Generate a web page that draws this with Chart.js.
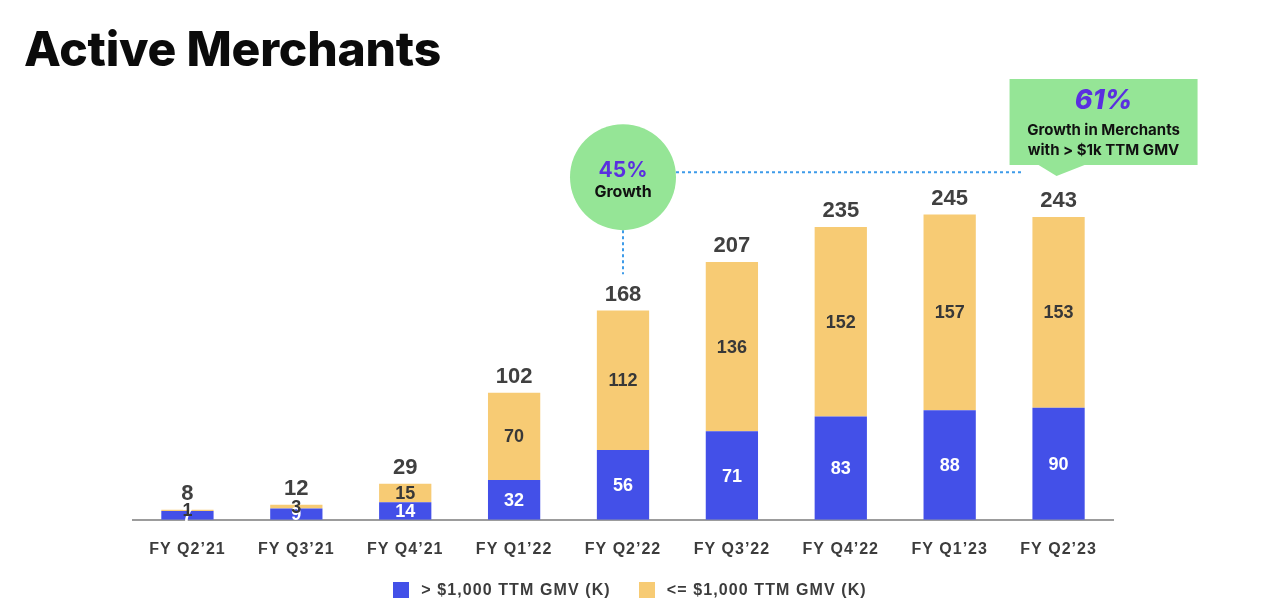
<!DOCTYPE html>
<html>
<head>
<meta charset="utf-8">
<script src="https://cdn.jsdelivr.net/npm/chart.js@4"></script>
<style>
  body { margin: 0; background: #fff; }
  #wrap { position: relative; width: 1280px; height: 614px; }
  #chart { position: absolute; left: 0; top: 0; }
  .title {
    position: absolute; left: 24px; top: 19px;
    font-family: Inter, "Noto Sans", sans-serif; font-weight: 800;
    font-size: 48px; color: #0b0b0b; letter-spacing: -0.2px;
  }
  #legend {
    position: absolute; left: 0; width: 1260px; top: 581px;
    display: flex; justify-content: center; gap: 28px;
    font-family: "Liberation Sans", Arial, sans-serif; font-weight: bold;
    font-size: 16px; color: #3c3c3c; letter-spacing: 1.1px;
  }
  #legend span.item { display: flex; align-items: center; }
  #legend span.box { width: 16px; height: 16px; margin-right: 12px; display: inline-block; }
</style>
</head>
<body>
<div id="wrap">
  <canvas id="chart" width="1280" height="614"></canvas>
  <div class="title">Active Merchants</div>
  <div id="legend"></div>
</div>
<script>
var quarters = ["FY Q2\u201921", "FY Q3\u201921", "FY Q4\u201921", "FY Q1\u201922", "FY Q2\u201922",
  "FY Q3\u201922", "FY Q4\u201922", "FY Q1\u201923", "FY Q2\u201923"];
var above1k = [7, 9, 14, 32, 56, 71, 83, 88, 90];
var below1k = [1, 3, 15, 70, 112, 136, 152, 157, 153];
var seriesNames = ["> $1,000 TTM GMV (K)", "<= $1,000 TTM GMV (K)"];

var BLUE = "#4350e8";
var YELLOW = "#f7cb74";
var GREEN = "#95e596";
var PURPLE = "#5a2fe0";
var DOTS = "#3d9be9";

// labels inside the segments and totals above the stacks
var labelPlugin = {
  id: "barLabels",
  beforeDraw: function (chart) {
    chart.ctx.letterSpacing = "1px";
  },
  afterDatasetsDraw: function (chart) {
    var ctx = chart.ctx;
    ctx.save();
    ctx.letterSpacing = "0px";
    ctx.textAlign = "center";
    ctx.textBaseline = "middle";
    var blueBars = chart.getDatasetMeta(0).data;
    var yellowBars = chart.getDatasetMeta(1).data;

    ctx.font = "bold 18px 'Liberation Sans', Arial, sans-serif";
    blueBars.forEach(function (bar, i) {
      ctx.fillStyle = "#ffffff";
      ctx.fillText(above1k[i], bar.x, (bar.y + bar.base) / 2 + 1);
    });
    yellowBars.forEach(function (bar, i) {
      ctx.fillStyle = "#383838";
      ctx.fillText(below1k[i], bar.x, (bar.y + bar.base) / 2 + 1);
    });

    ctx.font = "bold 22px 'Liberation Sans', Arial, sans-serif";
    ctx.fillStyle = "#404040";
    yellowBars.forEach(function (bar, i) {
      ctx.fillText(above1k[i] + below1k[i], bar.x, bar.y - 16);
    });
    ctx.restore();
  },
};

// growth bubble, dotted connectors and callout box
var calloutPlugin = {
  id: "callouts",
  afterDraw: function (chart) {
    var ctx = chart.ctx;
    var x = chart.scales.x;
    var y = chart.scales.y;
    var cx = x.getPixelForValue(4);
    var cy = y.getPixelForValue(275);
    var r = 53;
    var px = x.getPixelForValue(8);
    var lineY = y.getPixelForValue(279);

    ctx.save();
    ctx.letterSpacing = "0px";

    // dotted lines
    ctx.strokeStyle = DOTS;
    ctx.lineWidth = 2;
    ctx.setLineDash([3, 3]);
    ctx.beginPath();
    ctx.moveTo(cx + r, lineY);
    ctx.lineTo(px - 35, lineY);
    ctx.moveTo(cx, cy + r);
    ctx.lineTo(cx, y.getPixelForValue(197));
    ctx.stroke();
    ctx.setLineDash([]);

    // bubble
    ctx.fillStyle = GREEN;
    ctx.beginPath();
    ctx.arc(cx, cy, r, 0, Math.PI * 2);
    ctx.fill();

    ctx.textAlign = "center";
    ctx.textBaseline = "middle";
    ctx.fillStyle = PURPLE;
    ctx.font = "bold 21px Inter, sans-serif";
    ctx.fillText("45%", cx, cy - 6);
    ctx.fillStyle = "#111";
    ctx.font = "bold 16px Inter, sans-serif";
    ctx.fillText("Growth", cx, cy + 15);

    // callout box with pointer
    var boxL = px - 49, boxR = px + 139, boxT = 79, boxB = 165;
    ctx.fillStyle = GREEN;
    ctx.fillRect(boxL, boxT, boxR - boxL, boxB - boxT);
    ctx.beginPath();
    ctx.moveTo(px - 20, boxB);
    ctx.lineTo(px + 26, boxB);
    ctx.lineTo(px - 2, y.getPixelForValue(276));
    ctx.closePath();
    ctx.fill();

    var tx = (boxL + boxR) / 2;
    ctx.fillStyle = PURPLE;
    ctx.font = "italic 800 27px Inter, sans-serif";
    ctx.fillText("61%", tx, 101);
    ctx.fillStyle = "#111";
    ctx.font = "bold 15px Inter, sans-serif";
    ctx.fillText("Growth in Merchants", tx, 130);
    ctx.fillText("with > $1k TTM GMV", tx, 150);
    ctx.restore();
  },
};

var config = {
  type: "bar",
  data: {
    labels: quarters,
    datasets: [
      { label: seriesNames[0], data: above1k, backgroundColor: BLUE },
      { label: seriesNames[1], data: below1k, backgroundColor: YELLOW },
    ],
  },
  options: {
    responsive: false,
    animation: false,
    devicePixelRatio: 1,
    barPercentage: 0.48,
    categoryPercentage: 1,
    layout: {
      padding: { left: 133, right: 167, top: 146, bottom: 35 },
    },
    plugins: {
      legend: { display: false },
      tooltip: { enabled: false },
    },
    scales: {
      x: {
        stacked: true,
        grid: { display: false, drawTicks: false },
        border: { display: true, color: "#9c9c9c", width: 2 },
        ticks: {
          color: "#3c3c3c",
          padding: 20,
          autoSkip: false,
          maxRotation: 0,
          font: { family: "'Liberation Sans', Arial, sans-serif", size: 16, weight: "bold" },
        },
      },
      y: {
        stacked: true,
        display: false,
        min: 0,
        max: 300,
      },
    },
  },
  plugins: [labelPlugin, calloutPlugin],
};

function buildLegend() {
  var legend = document.getElementById("legend");
  config.data.datasets.forEach(function (ds) {
    var item = document.createElement("span");
    item.className = "item";
    var box = document.createElement("span");
    box.className = "box";
    box.style.background = ds.backgroundColor;
    item.appendChild(box);
    item.appendChild(document.createTextNode(ds.label));
    legend.appendChild(item);
  });
}

window.onload = function () {
  var ctx = document.getElementById("chart").getContext("2d");
  window.merchantsChart = new Chart(ctx, config);
  buildLegend();
};
</script>
</body>
</html>
